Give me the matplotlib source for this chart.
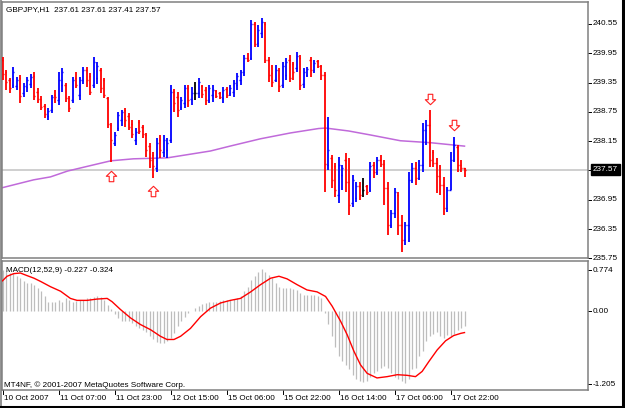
import matplotlib
matplotlib.use("Agg")
import matplotlib.pyplot as plt
import numpy as np
from matplotlib.path import Path
from matplotlib import transforms as mtransforms
from matplotlib.lines import Line2D

# ---------------- data ----------------
symbol_caption = "GBPJPY,H1  237.61 237.61 237.41 237.57"
macd_caption = "MACD(12,52,9) -0.227 -0.324"
copyright_text = "MT4NF, \u00a9 2001-2007 MetaQuotes Software Corp."

highs = [239.87, 239.61, 239.45, 239.67, 239.47, 239.51, 239.34, 239.47, 239.53, 239.57,
         239.24, 239.08, 238.91, 238.83, 239.10, 239.20, 239.57, 239.65, 239.34, 239.08,
         239.47, 239.57, 239.47, 239.67, 239.67, 239.55, 239.87, 239.77, 239.65, 239.45,
         239.06, 238.52, 238.34, 238.75, 238.79, 238.83, 238.73, 238.59, 238.42, 238.59,
         238.48, 238.32, 238.12, 237.93, 238.22, 238.28, 238.28, 238.22, 239.30, 239.22,
         239.16, 239.06, 239.30, 239.30, 239.26, 239.36, 239.45, 239.30, 239.26, 239.30,
         239.30, 239.20, 239.16, 239.26, 239.26, 239.30, 239.40, 239.55, 239.61, 239.92,
         239.96, 240.63, 240.59, 240.53, 240.67, 240.59, 239.87, 239.71, 239.71, 239.65,
         239.77, 239.85, 239.92, 239.77, 239.98, 239.92, 239.65, 239.67, 239.87, 239.81,
         239.81, 239.71, 239.57, 238.65, 237.87, 237.71, 237.83, 237.67, 237.91, 237.81,
         237.46, 237.32, 237.32, 237.40, 237.26, 237.73, 237.73, 237.83, 237.87, 237.77,
         237.32, 236.75, 237.20, 237.11, 236.64, 236.50, 237.52, 237.71, 237.73, 237.77,
         238.52, 238.59, 238.79, 237.97, 237.81, 237.67, 237.42, 237.22, 237.93, 238.24,
         238.07, 237.77, 237.61]
lows = [239.40, 239.20, 239.14, 239.24, 239.20, 238.93, 239.06, 239.16, 239.24, 238.99,
        238.93, 238.79, 238.63, 238.59, 238.73, 238.93, 238.89, 239.16, 238.95, 238.75,
        238.93, 239.24, 238.99, 239.32, 239.26, 239.10, 239.24, 239.32, 239.14, 239.04,
        238.42, 237.73, 238.05, 238.36, 238.46, 238.44, 238.38, 238.22, 238.07, 238.30,
        238.22, 237.83, 237.60, 237.40, 237.52, 237.81, 237.83, 237.81, 238.12, 238.75,
        238.65, 238.79, 238.83, 238.85, 238.89, 238.99, 239.04, 239.04, 238.89, 238.93,
        238.95, 239.04, 239.02, 238.93, 239.04, 239.08, 239.06, 239.20, 239.30, 239.49,
        239.77, 239.81, 240.08, 240.08, 240.26, 239.75, 239.36, 239.26, 239.36, 239.16,
        239.24, 239.40, 239.36, 239.40, 239.57, 239.20, 239.24, 239.47, 239.47, 239.55,
        239.65, 239.40, 237.11, 237.56, 237.20, 237.01, 236.89, 237.15, 237.11, 236.64,
        236.81, 236.91, 236.95, 237.01, 237.05, 237.11, 237.40, 237.46, 237.63, 236.85,
        236.23, 236.38, 236.58, 236.23, 235.89, 236.03, 236.09, 237.30, 237.26, 237.36,
        237.52, 238.07, 237.63, 237.63, 237.09, 237.05, 236.64, 236.70, 237.15, 237.73,
        237.52, 237.52, 237.41]
opens = [239.81, 239.57, 239.40, 239.30, 239.28, 239.45, 239.14, 239.26, 239.32, 239.49,
         239.16, 239.02, 238.87, 238.67, 238.79, 239.10, 238.99, 239.30, 239.30, 239.04,
         238.99, 239.45, 239.10, 239.40, 239.61, 239.49, 239.30, 239.45, 239.61, 239.40,
         239.04, 238.48, 238.12, 238.42, 238.59, 238.79, 238.67, 238.50, 238.18, 238.55,
         238.44, 238.28, 238.05, 237.87, 237.60, 238.18, 237.93, 237.97, 238.18, 239.16,
         239.06, 238.85, 238.93, 239.24, 239.02, 239.14, 239.14, 239.28, 239.20, 238.99,
         239.10, 239.18, 239.14, 239.04, 239.22, 239.14, 239.16, 239.30, 239.40, 239.57,
         239.85, 239.85, 240.55, 240.16, 240.37, 240.55, 239.81, 239.55, 239.40, 239.61,
         239.30, 239.51, 239.81, 239.73, 239.65, 239.85, 239.32, 239.51, 239.81, 239.61,
         239.79, 239.69, 239.51, 237.67, 237.81, 237.65, 237.05, 237.46, 237.77, 237.32,
         236.89, 236.99, 237.24, 237.15, 237.24, 237.15, 237.67, 237.52, 237.77, 237.69,
         237.20, 236.44, 236.68, 237.05, 236.44, 236.13, 236.44, 237.36, 237.60, 237.40,
         237.67, 238.38, 238.48, 237.93, 237.71, 237.44, 237.26, 236.79, 237.15, 237.77,
         238.03, 237.67, 237.61]
closes = [239.53, 239.36, 239.24, 239.57, 239.40, 239.08, 239.28, 239.40, 239.47, 239.08,
          239.02, 238.85, 238.71, 238.77, 239.06, 239.06, 239.40, 239.57, 239.04, 238.83,
          239.40, 239.30, 239.40, 239.61, 239.40, 239.16, 239.77, 239.69, 239.24, 239.10,
          238.50, 238.18, 238.28, 238.69, 238.75, 238.59, 238.44, 238.30, 238.34, 238.36,
          238.30, 237.97, 237.77, 237.65, 238.12, 237.97, 238.18, 238.12, 239.16, 238.93,
          238.79, 238.99, 239.24, 238.99, 239.14, 239.14, 239.36, 239.12, 238.99, 239.24,
          239.20, 239.08, 239.06, 239.20, 239.10, 239.24, 239.34, 239.49, 239.57, 239.85,
          239.81, 240.55, 240.14, 240.43, 240.59, 239.81, 239.51, 239.36, 239.61, 239.28,
          239.69, 239.77, 239.45, 239.57, 239.89, 239.30, 239.57, 239.63, 239.61, 239.75,
          239.69, 239.51, 237.69, 237.97, 237.36, 237.15, 237.67, 237.60, 237.32, 236.85,
          237.36, 237.24, 237.05, 237.15, 237.11, 237.65, 237.52, 237.77, 237.69, 237.20,
          236.44, 236.68, 237.11, 236.44, 236.13, 236.44, 237.36, 237.60, 237.40, 237.67,
          238.38, 238.48, 237.77, 237.71, 237.44, 237.26, 236.79, 237.15, 237.77, 238.07,
          237.67, 237.61, 237.57]

ma_idx = [0, 8.9, 13.7, 18.6, 28, 31, 37.4, 47.1, 59.4, 65, 73.7, 82.3, 90.3, 92.3,
          98.9, 105, 113.7, 122.3, 132]
ma_val = [237.20, 237.36, 237.42, 237.54, 237.70, 237.75, 237.79, 237.81, 237.95, 238.05,
          238.20, 238.32, 238.41, 238.42, 238.36, 238.28, 238.16, 238.12, 238.05]

current_price = 237.57
price_ticks = [240.55, 239.95, 239.35, 238.75, 238.15, 236.95, 236.35, 235.75]

fractal_up_idx = [31, 43]
fractal_up_price = [237.43, 237.14]
fractal_dn_idx = [122, 129]
fractal_dn_price = [239.01, 238.48]

macd_hist = [0.64, 0.64, 0.59, 0.59, 0.54, 0.51, 0.46, 0.43, 0.43, 0.40,
             0.36, 0.31, 0.23, 0.15, 0.14, 0.14, 0.18, 0.15, 0.20, 0.18,
             0.15, 0.16, 0.18, 0.18, 0.20, 0.20, 0.22, 0.23, 0.22, 0.18,
             0.10, 0.03, -0.04, -0.10, -0.14, -0.15, -0.15, -0.18, -0.22, -0.26,
             -0.28, -0.32, -0.37, -0.43, -0.47, -0.48, -0.49, -0.46, -0.40, -0.33,
             -0.23, -0.14, -0.08, -0.03, 0.01, 0.05, 0.09, 0.11, 0.13, 0.14,
             0.15, 0.15, 0.16, 0.17, 0.18, 0.18, 0.19, 0.20, 0.23, 0.31,
             0.37, 0.49, 0.55, 0.61, 0.65, 0.61, 0.56, 0.51, 0.43, 0.38,
             0.36, 0.36, 0.36, 0.35, 0.33, 0.28, 0.26, 0.25, 0.25, 0.25,
             0.24, 0.20, -0.03, -0.19, -0.37, -0.54, -0.68, -0.76, -0.82, -0.89,
             -0.97, -1.04, -1.07, -1.08, -1.07, -1.01, -0.95, -0.91, -0.87, -0.84,
             -0.87, -0.95, -1.00, -1.04, -1.07, -1.09, -1.03, -0.89, -0.86, -0.68,
             -0.60, -0.45, -0.37, -0.34, -0.31, -0.38, -0.41, -0.36, -0.38, -0.34,
             -0.29, -0.25, -0.227]

signal_idx = [0, 1.3, 3.2, 5.1, 7, 9, 10.9, 13.7, 16.6, 19.4, 21.3, 24.2, 27, 29.9, 31.3,
              33.7, 36.6, 39.4, 42.3, 45.1, 47, 49, 50.9, 53.7, 56.6, 59.4, 62.3, 65.1, 68,
              70.9, 73.7, 76.6, 79, 81.3, 84.2, 87, 89.9, 92.3, 94.2, 96.6, 98.5, 100.4,
              102.3, 104.2, 107, 109.9, 112.8, 115.6, 118, 119.9, 121.8, 124.2, 126.6,
              128.9, 131, 132]
signal_val = [0.47, 0.54, 0.58, 0.59, 0.55, 0.51, 0.46, 0.38, 0.31, 0.20, 0.17, 0.17, 0.19,
              0.20, 0.15, 0.03, -0.10, -0.20, -0.28, -0.38, -0.43, -0.43, -0.38, -0.26,
              -0.08, 0.05, 0.13, 0.17, 0.20, 0.30, 0.41, 0.51, 0.54, 0.50, 0.41, 0.33,
              0.30, 0.23, 0.08, -0.15, -0.36, -0.61, -0.82, -0.95, -1.02, -1.00, -0.97,
              -0.98, -1.00, -0.92, -0.77, -0.59, -0.45, -0.37, -0.335, -0.324]

macd_max = 0.774
macd_min = -1.205
macd_tick_vals = [0.774, 0.00, -1.205]
macd_tick_labels = ["0.774", "0.00", "-1.205"]

time_tick_idx = [0, 16, 32, 48, 64, 80, 96, 112, 128]
time_tick_labels = ["10 Oct 2007", "11 Oct 07:00", "11 Oct 23:00", "12 Oct 15:00",
                    "15 Oct 06:00", "15 Oct 22:00", "16 Oct 14:00", "17 Oct 06:00",
                    "17 Oct 22:00"]

# ---------------- style ----------------
FONT = ["Liberation Sans", "DejaVu Sans"]
FS = 5.9
W, H = 625, 408
UP, DOWN, EVEN = "#0000FF", "#FF0000", "#000000"
FRAME = "#808080"

fig = plt.figure(figsize=(W / 100, H / 100), dpi=100)
fig.patch.set_facecolor("white")

# panel geometry in pixels
L, R = 2, 588
ax1 = fig.add_axes([L / W, (H - 258) / H, (R - L) / W, 256 / H])
ax2 = fig.add_axes([L / W, (H - 390) / H, (R - L) / W, 129 / H])

x0px, step = 2.5, 3.5
xlim = ((L - x0px) / step, (R - x0px) / step)

for ax in (ax1, ax2):
    ax.set_facecolor("white")
    ax.set_xlim(*xlim)
    ax.set_xticks([])
    ax.set_yticks([])
    for s in ax.spines.values():
        s.set_color(FRAME)
        s.set_linewidth(1.1)

ax1.set_ylim(235.76, 241.00)
ax2.set_ylim(macd_min, macd_max)

# ---- main panel ----
idx = np.arange(len(closes))
o = np.array(opens); h = np.array(highs); l = np.array(lows); c = np.array(closes)
cols = [UP if cc > oo else (DOWN if cc < oo else EVEN) for oo, cc in zip(o, c)]

ax1.axhline(current_price, color="#CFCFCF", lw=1.4, zorder=1)
ax1.plot(ma_idx, ma_val, color="#C06ADA", lw=1.1, zorder=2)

ax1.vlines(idx, l, h, colors=cols, lw=1.3, zorder=3)
ax1.hlines(o, idx - 0.38, idx, colors=cols, lw=1.0, zorder=3)
ax1.hlines(c, idx, idx + 0.38, colors=cols, lw=1.0, zorder=3)

up_arrow = Path([(0, 0.5), (0.5, 0.02), (0.22, 0.02), (0.22, -0.5), (-0.22, -0.5),
                 (-0.22, 0.02), (-0.5, 0.02), (0, 0.5)], closed=True)
dn_arrow = Path([(0, -0.5), (0.5, -0.02), (0.22, -0.02), (0.22, 0.5), (-0.22, 0.5),
                 (-0.22, -0.02), (-0.5, -0.02), (0, -0.5)], closed=True)
ax1.plot(fractal_up_idx, fractal_up_price, ls="none", marker=up_arrow, ms=7.5,
         mfc="white", mec="#FF2020", mew=0.8, zorder=4)
ax1.plot(fractal_dn_idx, fractal_dn_price, ls="none", marker=dn_arrow, ms=7.5,
         mfc="white", mec="#FF2020", mew=0.8, zorder=4)

ax1.text((6 - L) / (R - L), 1 - (9.5 - 2) / 256, symbol_caption, transform=ax1.transAxes,
         ha="left", va="center", fontsize=FS, family=FONT, color="black")

ytr1 = ax1.get_yaxis_transform()
tick_len = 3 / (R - L)
for p in price_ticks:
    ax1.add_line(Line2D([1, 1 + tick_len], [p, p], transform=ytr1, color="black",
                        lw=0.7, clip_on=False))
    ax1.text(1, p, f"{p:.2f}", transform=mtransforms.offset_copy(ytr1, fig=fig, x=5, y=0,
             units="dots"), ha="left", va="center", fontsize=FS, family=FONT,
             clip_on=False)
ax1.add_line(Line2D([1, 1 + tick_len], [current_price] * 2, transform=ytr1, color="black",
                    lw=0.7, clip_on=False))
ax1.text(1, current_price, f"{current_price:.2f}",
         transform=mtransforms.offset_copy(ytr1, fig=fig, x=5, y=0, units="dots"),
         ha="left", va="center", fontsize=FS, family=FONT, color="white", clip_on=False,
         bbox=dict(boxstyle="square,pad=0.22", fc="black", ec="black"))

# ---- MACD panel ----
ax2.vlines(idx, 0, macd_hist, colors="#BDBDBD", lw=0.9, zorder=2)
ax2.plot(signal_idx, signal_val, color="#FF0000", lw=1.0, zorder=3)

ax2.text((6 - L) / (R - L), 1 - (270.5 - 261) / 129, macd_caption, transform=ax2.transAxes,
         ha="left", va="center", fontsize=FS, family=FONT)
ax2.text((4 - L) / (R - L), 1 - (385 - 261) / 129, copyright_text, transform=ax2.transAxes,
         ha="left", va="center", fontsize=FS, family=FONT)

ytr2 = ax2.get_yaxis_transform()
label_shift = {0.774: -9, 0.00: 0, -1.205: 6}
for v, txt in zip(macd_tick_vals, macd_tick_labels):
    dy = label_shift.get(v, 0)
    tr = mtransforms.offset_copy(ytr2, fig=fig, x=0, y=dy, units="dots")
    ax2.add_line(Line2D([1, 1 + tick_len], [v, v], transform=tr, color="black", lw=0.7,
                        clip_on=False))
    ax2.text(1, v, txt, transform=mtransforms.offset_copy(ytr2, fig=fig, x=5, y=dy,
             units="dots"), ha="left", va="center", fontsize=FS, family=FONT, clip_on=False)

xtr2 = ax2.get_xaxis_transform()
for ti, tl in zip(time_tick_idx, time_tick_labels):
    ax2.add_line(Line2D([ti, ti], [0, -4 / 129], transform=xtr2, color="black", lw=0.7,
                        clip_on=False))
    ax2.text(ti, 0, tl, transform=mtransforms.offset_copy(xtr2, fig=fig, x=1.5, y=-8.5,
             units="dots"), ha="left", va="center", fontsize=FS, family=FONT, clip_on=False)

# ---- outer window frame ----
fig.add_artist(Line2D([0.5 / W, 0.5 / W], [0, 1], transform=fig.transFigure,
                      color="#808080", lw=1.2))
fig.add_artist(Line2D([623 / W, 623 / W], [0, 1], transform=fig.transFigure,
                      color="black", lw=2.2))
fig.add_artist(Line2D([0, 1], [1.5 / H, 1.5 / H], transform=fig.transFigure,
                      color="black", lw=2.2))

fig.savefig("out.png", dpi=100, facecolor="white")
